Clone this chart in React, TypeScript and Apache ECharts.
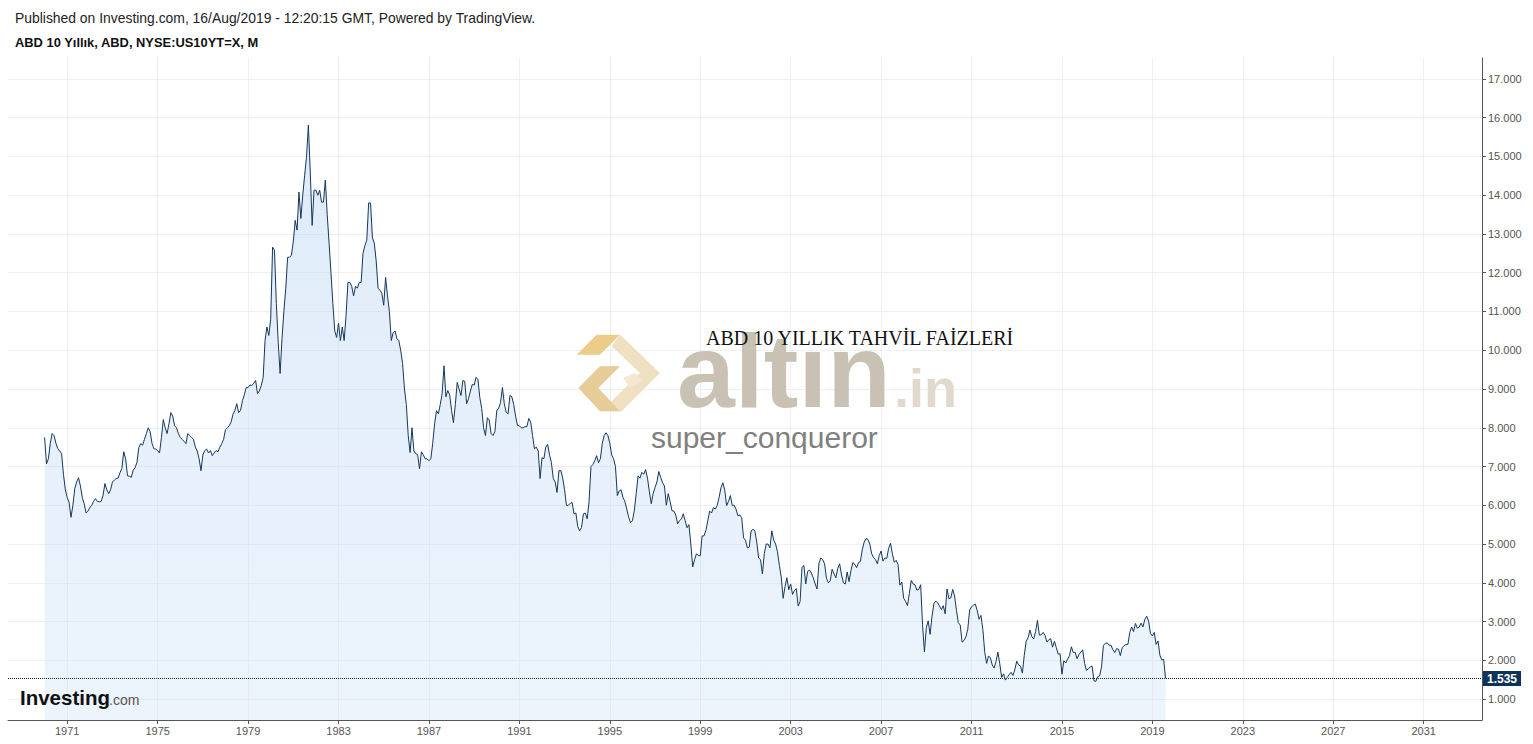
import React, { useEffect, useRef } from "react";
import * as echarts from "echarts";

const START_YEAR = 1970;

const YIELDS_1970S = [
  7.75, 7.07, 7.2, 7.6, 7.85, 7.8, 7.6, 7.46, 7.4, 7.33, 6.8, 6.4,
  6.2, 6.07, 5.69, 6.0, 6.43, 6.6, 6.71, 6.5, 6.2, 6.04, 5.8, 5.85,
  5.94, 6.0, 6.1, 6.17, 6.1, 6.09, 6.1, 6.25, 6.56, 6.4, 6.3, 6.4,
  6.6, 6.65, 6.69, 6.7, 6.84, 6.95, 7.38, 7.2, 6.76, 6.75, 6.72, 6.9,
  6.97, 7.1, 7.49, 7.59, 7.55, 7.7, 7.85, 8.0, 7.9, 7.6, 7.46, 7.45,
  7.41, 7.35, 7.75, 8.21, 8.0, 7.85, 8.1, 8.39, 8.3, 8.05, 8.0, 7.85,
  7.75, 7.7, 7.65, 7.59, 7.85, 7.8, 7.75, 7.7, 7.5, 7.4, 7.2, 6.89,
  7.3, 7.41, 7.45, 7.35, 7.41, 7.28, 7.35, 7.41, 7.38, 7.5, 7.59, 7.7,
  7.95, 8.0, 8.05, 8.15, 8.35, 8.45, 8.62, 8.39, 8.45, 8.7, 8.85, 9.04,
  9.04, 9.1, 9.09, 9.15, 9.22, 8.88, 8.95, 9.09, 9.3, 10.25, 10.6, 10.38,
];

const YIELDS_1980S = [
  10.8, 12.66, 12.58, 11.2, 10.2, 9.4, 10.3, 11.0, 11.6, 12.4, 12.4, 12.45,
  12.8, 13.35, 13.1, 14.08, 13.4, 14.0, 14.5, 14.98, 15.81, 14.6, 13.22, 14.13,
  14.13, 14.0, 14.13, 13.82, 13.82, 14.39, 13.5, 12.76, 12.0, 11.2, 10.5, 10.33,
  10.7, 10.25, 10.6, 10.25, 10.9, 11.75, 11.75, 11.65, 11.4, 11.65, 11.6, 11.75,
  11.75, 12.5, 12.7, 12.84, 13.8, 13.8, 12.9, 12.76, 12.3, 11.6, 11.55, 11.47,
  11.16, 11.88, 11.4, 11.0, 10.25, 10.45, 10.5, 10.3, 10.25, 10.0, 9.66, 9.0,
  8.6, 7.8, 7.36, 8.0, 7.4, 7.33, 7.3, 6.94, 7.38, 7.3, 7.2, 7.2,
  7.15, 7.2, 7.6, 8.1, 8.44, 8.36, 8.6, 8.88, 9.6, 8.8, 8.96, 8.85,
  8.45, 8.13, 8.6, 9.17, 9.0, 8.83, 9.22, 9.2, 8.62, 8.75, 8.95, 9.12,
  9.1, 9.3, 9.25, 8.78, 8.5, 8.0, 7.8, 8.26, 8.2, 7.85, 7.8, 7.9,
];

const YIELDS_1990S = [
  8.44, 8.5, 8.65, 9.04, 8.62, 8.4, 8.36, 8.83, 8.8, 8.6, 8.3, 8.06,
  8.05, 8.0, 8.0, 8.03, 8.03, 8.24, 8.15, 7.8, 7.46, 7.5, 7.4, 6.69,
  7.23, 7.2, 7.5, 7.57, 7.3, 7.1, 6.69, 6.6, 6.33, 6.89, 6.9, 6.7,
  6.4, 5.99, 6.0, 6.05, 6.07, 5.78, 5.8, 5.45, 5.34, 5.43, 5.78, 5.8,
  5.65, 6.1, 7.0, 7.05, 7.15, 7.28, 7.1, 7.2, 7.6, 7.8, 7.87, 7.8,
  7.6, 7.3, 7.2, 7.0, 6.25, 6.37, 6.4, 6.2, 6.1, 5.9, 5.7, 5.55,
  5.6, 5.86, 6.3, 6.76, 6.7, 6.85, 6.8, 6.92, 6.7, 6.35, 6.04, 6.3,
  6.46, 6.6, 6.87, 6.72, 6.58, 6.5, 6.0, 6.3, 6.1, 5.86, 5.85, 5.75,
  5.52, 5.6, 5.65, 5.78, 5.6, 5.42, 5.5, 5.0, 4.41, 4.6, 4.75, 4.7,
  4.7, 5.21, 5.21, 5.35, 5.6, 5.85, 5.8, 5.94, 5.9, 6.0, 6.2, 6.45,
];

const YIELDS_2000S = [
  6.58, 6.4, 5.99, 6.1, 6.25, 6.0, 6.0, 5.9, 5.73, 5.75, 5.68, 5.16,
  5.1, 4.9, 4.92, 5.34, 5.38, 5.34, 5.05, 4.64, 4.6, 4.23, 4.75, 5.0,
  5.0, 4.9, 5.34, 5.1, 5.0, 4.8, 4.45, 4.15, 3.6, 3.9, 4.13, 3.82,
  3.97, 3.7, 3.8, 3.85, 3.4, 3.52, 4.39, 4.45, 3.97, 4.29, 4.33, 4.25,
  4.13, 3.97, 3.84, 4.5, 4.64, 4.6, 4.49, 4.12, 4.0, 4.05, 4.35, 4.23,
  4.13, 4.37, 4.49, 4.2, 4.0, 3.97, 4.28, 4.03, 4.32, 4.52, 4.48, 4.39,
  4.52, 4.55, 4.85, 5.05, 5.14, 5.12, 5.0, 4.75, 4.65, 4.6, 4.49, 4.7,
  4.82, 4.56, 4.64, 4.63, 4.89, 5.02, 4.75, 4.53, 4.58, 4.47, 3.94, 4.02,
  3.6, 3.52, 3.41, 3.73, 4.06, 3.97, 3.95, 3.81, 3.83, 3.95, 2.92, 2.22,
  2.84, 3.02, 2.67, 3.12, 3.46, 3.53, 3.48, 3.4, 3.31, 3.41, 3.2, 3.84,
];

const YIELDS_2010S = [
  3.59, 3.61, 3.83, 3.66, 3.29, 2.97, 2.91, 2.47, 2.51, 2.6, 2.8, 3.3,
  3.38, 3.42, 3.45, 3.29, 3.06, 3.16, 2.8, 2.22, 1.92, 2.11, 2.07, 1.88,
  1.8, 1.97, 2.21, 1.91, 1.56, 1.65, 1.49, 1.56, 1.63, 1.69, 1.61, 1.76,
  1.98, 1.88, 1.85, 1.67, 2.13, 2.49, 2.58, 2.78, 2.61, 2.55, 2.74, 3.03,
  2.65, 2.66, 2.72, 2.65, 2.47, 2.53, 2.56, 2.34, 2.49, 2.33, 2.16, 2.17,
  1.64, 1.99, 1.93, 2.03, 2.12, 2.35, 2.2, 2.21, 2.04, 2.15, 2.21, 2.27,
  1.92, 1.74, 1.78, 1.83, 1.85, 1.47, 1.46, 1.58, 1.6, 1.83, 2.38, 2.44,
  2.45, 2.39, 2.39, 2.28, 2.2, 2.3, 2.29, 2.12, 2.33, 2.38, 2.41, 2.41,
  2.72, 2.86, 2.74, 2.95, 2.83, 2.86, 2.96, 2.86, 3.06, 3.14, 3.01, 2.69,
  2.63, 2.72, 2.41, 2.5, 2.13, 2.01, 2.02, 1.535,
];

const X_TICKS = [1971, 1975, 1979, 1983, 1987, 1991, 1995, 1999, 2003, 2007, 2011, 2015, 2019, 2023, 2027, 2031];
const Y_TICKS = [1, 2, 3, 4, 5, 6, 7, 8, 9, 10, 11, 12, 13, 14, 15, 16, 17];

const HEADER = "Published on Investing.com, 16/Aug/2019 - 12:20:15 GMT, Powered by TradingView.";
const SUBHEADER = "ABD 10 Yıllık, ABD, NYSE:US10YT=X, M";
const CHART_TITLE = "ABD 10 YILLIK TAHVİL FAİZLERİ";
const AUTHOR = "super_conqueror";

const SANS = 'Arial, "Liberation Sans", Helvetica, sans-serif';
const SERIF = '"Times New Roman", "Liberation Serif", Times, serif';

const ICON_DX = -5;
const shift = (pts: number[][]) => pts.map(([x, y]) => [x + ICON_DX, y]);

export default function App() {
  const ref = useRef<HTMLDivElement>(null);

  useEffect(() => {
    if (!ref.current) return;
    const chart = echarts.init(ref.current, null, { renderer: "svg" });
    const all = [...YIELDS_1970S, ...YIELDS_1980S, ...YIELDS_1990S, ...YIELDS_2000S, ...YIELDS_2010S];
    const points = all.map((v, i) => [START_YEAR + i / 12, v]);
    const last = all[all.length - 1];

    const option: any = {
      animation: false,
      backgroundColor: "#ffffff",
      grid: { left: 8, right: 51, top: 58, bottom: 24 },
      xAxis: {
        type: "value",
        min: 1968.38,
        max: 2033.58,
        axisLine: { show: true, lineStyle: { color: "#555555", width: 1 } },
        axisTick: { show: true, customValues: X_TICKS, length: 4, lineStyle: { color: "#555555" } },
        axisLabel: {
          customValues: X_TICKS,
          formatter: (v: number) => String(Math.round(v)),
          color: "#555555",
          fontSize: 11,
          fontFamily: SANS,
          margin: 5,
        },
        splitLine: { show: true, lineStyle: { color: "#f0f0f0", width: 1 } },
      },
      yAxis: {
        type: "value",
        position: "right",
        min: 0.46,
        max: 17.54,
        axisLine: { show: true, lineStyle: { color: "#555555", width: 1 } },
        axisTick: { show: true, customValues: Y_TICKS, length: 4, lineStyle: { color: "#555555" } },
        axisLabel: {
          customValues: Y_TICKS,
          formatter: (v: number) => v.toFixed(3),
          color: "#555555",
          fontSize: 11,
          fontFamily: SANS,
          margin: 6,
        },
        splitLine: { show: true, lineStyle: { color: "#f0f0f0", width: 1 } },
      },
      series: [
        {
          type: "line",
          data: points,
          symbol: "none",
          showSymbol: false,
          z: 2,
          lineStyle: { color: "#15375c", width: 1 },
          areaStyle: {
            origin: "start",
            color: new echarts.graphic.LinearGradient(0, 0, 0, 1, [
              { offset: 0, color: "rgba(186,212,242,0.68)" },
              { offset: 1, color: "rgba(196,220,246,0.45)" },
            ]),
          },
          emphasis: { disabled: true },
          markLine: {
            silent: true,
            symbol: ["none", "none"],
            animation: false,
            data: [{ yAxis: last }],
            lineStyle: { color: "#0b2a4a", type: "dotted", width: 1 },
            label: {
              show: true,
              position: "end",
              distance: 1,
              formatter: last.toFixed(3),
              backgroundColor: "#0d3359",
              color: "#ffffff",
              fontWeight: "bold",
              fontSize: 12,
              fontFamily: SANS,
              padding: [2, 4, 1, 4],
            },
            emphasis: { disabled: true },
          },
        },
      ],
      graphic: [
        {
          type: "text", x: 15, y: 18, z: 100,
          style: { text: HEADER, fontSize: 13.9, fontFamily: SANS, fill: "#222222", verticalAlign: "middle" },
        },
        {
          type: "text", x: 15, y: 42, z: 100,
          style: { text: SUBHEADER, fontSize: 12.9, fontWeight: "bold", fontFamily: SANS, fill: "#111111", verticalAlign: "middle" },
        },
        {
          type: "polygon", z: 100,
          shape: { points: shift([[581.7, 354.7], [601.7, 334.7], [625, 334.7], [605, 354.7]]) },
          style: { fill: "#ebcd88" },
        },
        {
          type: "polygon", z: 100,
          shape: { points: shift([[625, 334.7], [665, 373], [626.7, 411.3], [606.7, 411.3], [645, 373], [616.7, 346.3]]) },
          style: { fill: "#eee0c0" },
        },
        {
          type: "polygon", z: 100,
          shape: { points: shift([[583.3, 388], [605, 366.3], [625, 366.3], [603.3, 388], [625, 411.3], [605, 411.3]]) },
          style: { fill: "#e5cc98" },
        },
        {
          type: "polygon", z: 100,
          shape: { points: shift([[628, 378], [640, 373], [647, 381], [635, 388]]) },
          style: { fill: "#f4e9d0" },
        },
        {
          type: "text", x: 677, y: 371, z: 100,
          style: { text: "altın", fontSize: 104, fontWeight: "bold", fontFamily: SANS, fill: "#c9c2b4", verticalAlign: "middle" },
        },
        {
          type: "text", x: 894, y: 388, z: 100,
          style: { text: ".in", fontSize: 54, fontWeight: "bold", fontFamily: SANS, fill: "#e0d9cc", verticalAlign: "middle" },
        },
        {
          type: "text", x: 706, y: 338, z: 101,
          style: { text: CHART_TITLE, fontSize: 20, fontFamily: SERIF, fill: "#111111", verticalAlign: "middle" },
        },
        {
          type: "text", x: 651, y: 437.5, z: 100,
          style: { text: AUTHOR, fontSize: 30, fontFamily: SANS, fill: "#808080", verticalAlign: "middle" },
        },
        {
          type: "text", x: 20, y: 697.5, z: 100,
          style: { text: "Investing", fontSize: 20.5, fontWeight: "bold", fontFamily: SANS, fill: "#111111", verticalAlign: "middle" },
        },
        {
          type: "text", x: 109, y: 700, z: 100,
          style: { text: ".com", fontSize: 14, fontFamily: SANS, fill: "#555555", verticalAlign: "middle" },
        },
      ],
    };

    chart.setOption(option);
    return () => {
      chart.dispose();
    };
  }, []);

  return (
    <div
      ref={ref}
      style={{ position: "absolute", left: 0, top: 0, width: 1533, height: 744, background: "#ffffff" }}
    />
  );
}
